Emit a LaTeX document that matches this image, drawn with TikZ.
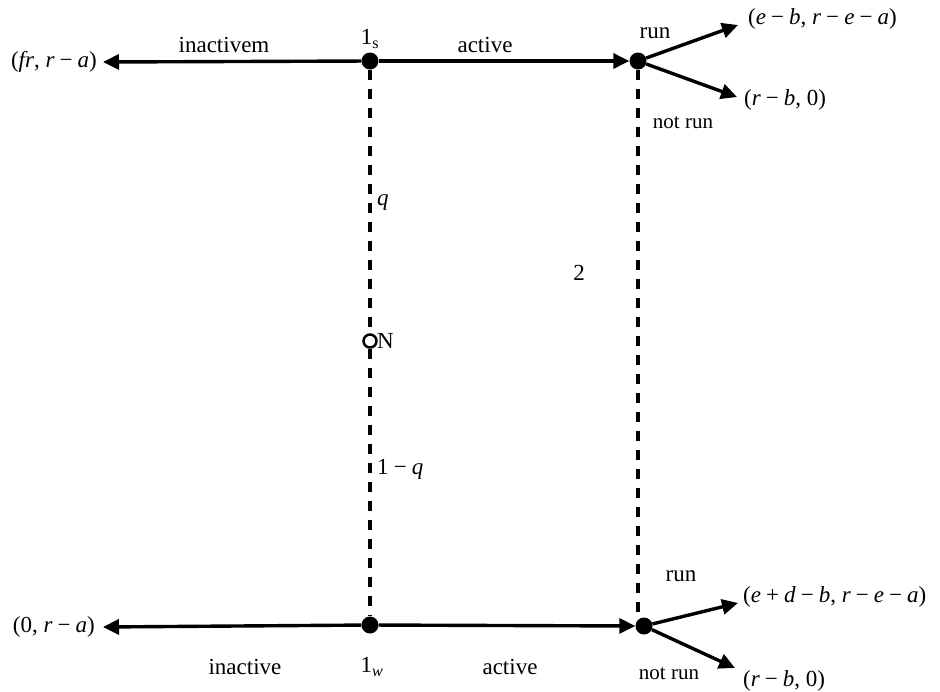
\documentclass[tikz,border=0pt]{standalone}
\usepackage{fontspec}
\setmainfont{Liberation Serif}
\usetikzlibrary{arrows.meta}
\newcommand\mi[1]{\textit{#1}}
\newcommand\mm{\hspace{0.22em}−\hspace{0.22em}}
\begin{document}
\begin{tikzpicture}[x=1pt,y=-1pt,
  dot/.style={circle,fill=black,inner sep=0pt,minimum size=17pt},
  odot/.style={circle,draw=black,line width=2.5pt,fill=white,inner sep=0pt,minimum size=13pt},
  edge/.style={line width=3.4pt,-{Triangle[length=16pt,width=15pt]}},
  dline/.style={line width=3.4pt,dash pattern=on 10pt off 9pt},
  lbl/.style={font=\fontsize{23}{26}\selectfont,inner sep=0pt},
  slbl/.style={font=\fontsize{21}{24}\selectfont,inner sep=0pt}]
\useasboundingbox (0,0) rectangle (940,691);
% nodes
\node[dot] (s) at (370,61) {};
\node[dot] (sr) at (638,61) {};
\node[dot] (w) at (370,625) {};
\node[dot] (wr) at (644,626) {};
\node[odot] (N) at (370,341) {};
% payoff nodes
\node[lbl,anchor=east] (p1) at (97,62) {(\mi{fr}, \mi{r}\mm\mi{a})};
\node[lbl,anchor=east] (p4) at (95,627) {(0, \mi{r}\mm\mi{a})};
\coordinate (t1) at (738,25);
\coordinate (t2) at (737,97);
\coordinate (t3) at (738,603);
\coordinate (t4) at (735,668);
\node[lbl,anchor=west] (p2) at (748,19) {(\mi{e}\mm\mi{b}, \mi{r}\mm\mi{e}\mm\mi{a})};
\node[lbl,anchor=west] (p3) at (744,100) {(\mi{r}\mm\mi{b}, 0)};
\node[lbl,anchor=west] (p5) at (743,597) {(\mi{e}\hspace{0.22em}+\hspace{0.22em}\mi{d}\mm\mi{b}, \mi{r}\mm\mi{e}\mm\mi{a})};
\node[lbl,anchor=west] (p6) at (743,681) {(\mi{r}\mm\mi{b}, 0)};
% dashed lines
\draw[dline] (s) -- (N);
\draw[dline] (N) -- (w);
\draw[dline] (sr) -- (sr |- wr.north);
% solid edges
\draw[edge] (s) -- ([xshift=6pt]p1.east);
\draw[edge] (s) -- (sr.west);
\draw[edge] (w) -- ([xshift=8pt]p4.east);
\draw[edge] (w) -- (wr.west);
\draw[edge] (sr) -- (t1);
\draw[edge] (sr) -- (t2);
\draw[edge] (wr) -- (t3);
\draw[edge] (wr) -- (t4);
% labels
\node[lbl] (l1) at (224,45) {inactivem};
\node[lbl] (l2) at (370,39) {1\textsubscript{s}};
\node[lbl] (l3) at (485,45) {active};
\node[lbl] (l4) at (655,33) {run};
\node[slbl] (l5) at (683,123) {not run};
\node[lbl,anchor=west] (l6) at (377,203) {\mi{q}};
\node[lbl,anchor=west] (l7) at (377,469) {1\mm\mi{q}};
\node[lbl] (l8) at (579,273) {2};
\node[lbl,anchor=west] (l9) at (377,341) {N};
\node[lbl] (l10) at (681,576) {run};
\node[slbl] (l11) at (669,674) {not run};
\node[lbl] (l12) at (245,667) {inactive};
\node[lbl] (l13) at (372,667) {1\textsubscript{\mi{w}}};
\node[lbl] (l14) at (510,667) {active};
\end{tikzpicture}
\end{document}
